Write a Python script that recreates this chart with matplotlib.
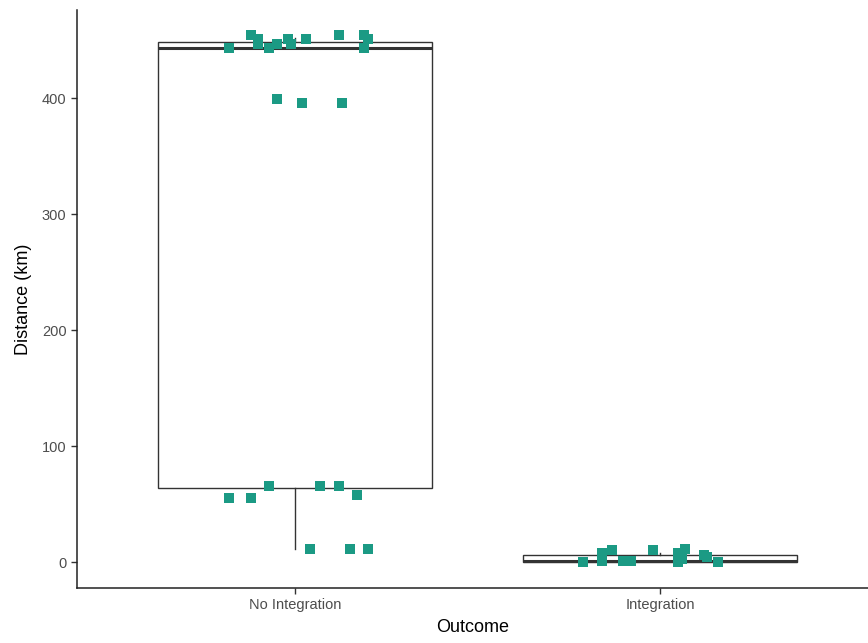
import matplotlib
matplotlib.use("Agg")
import matplotlib.pyplot as plt

plt.rcParams['font.family'] = ['Liberation Sans', 'DejaVu Sans']

categories = ["No Integration", "Integration"]

# box statistics (km)
box_q1 = [64, 0]
box_med = [443, 1]
box_q3 = [448, 6]
box_wlo = [11, 0]
box_whi = [452, 8]

# jittered points: horizontal jitter offset from category centre, distance (km)
g1_off = [-0.12, -0.10, -0.10, -0.18, -0.07, -0.05, -0.02, -0.01, 0.03, 0.12, 0.19, 0.20, 0.19,
          -0.05, 0.02, 0.13, -0.07, 0.07, 0.12, -0.18, -0.12, 0.17, 0.04, 0.15, 0.20]
g1_y = [454, 451, 447, 443, 443, 447, 451, 447, 451, 454, 454, 451, 443,
        399, 396, 396, 65.5, 65.5, 65.5, 55, 55, 58, 11, 11, 11]
g2_off = [-0.21, -0.16, -0.16, -0.13, -0.10, -0.08, -0.02, 0.05, 0.05, 0.07, 0.06, 0.12, 0.13, 0.16]
g2_y = [0, 8, 1, 10, 1, 1, 10, 8, 0, 11, 3, 6, 4, 0]

fig = plt.figure(figsize=(8.68, 6.43), dpi=100)
ax = fig.add_axes([77/868, 55/643, (868-77)/868, (588-10)/643])

stats = []
for i in range(2):
    stats.append(dict(med=box_med[i], q1=box_q1[i], q3=box_q3[i],
                      whislo=box_wlo[i], whishi=box_whi[i], fliers=[]))
ax.bxp(stats, positions=[1, 2], widths=0.75, showcaps=False, patch_artist=True,
       boxprops=dict(facecolor='white', edgecolor='#333333', linewidth=1.0),
       medianprops=dict(color='#333333', linewidth=2.2),
       whiskerprops=dict(color='#333333', linewidth=1.0), zorder=1)

teal = '#1b9a84'
ax.plot([1 + o for o in g1_off], g1_y, 's', color=teal, markersize=6.8, markeredgewidth=0, zorder=3)
ax.plot([2 + o for o in g2_off], g2_y, 's', color=teal, markersize=6.8, markeredgewidth=0, zorder=3)

ax.set_xlim(0.403, 2.57)
ax.set_ylim(-22.4, 475.9)
ax.set_xticks([1, 2])
ax.set_xticklabels(categories)
ax.set_yticks([0, 100, 200, 300, 400])
for s in ['top', 'right']:
    ax.spines[s].set_visible(False)
for s in ['left', 'bottom']:
    ax.spines[s].set_color('#222222')
    ax.spines[s].set_linewidth(1.1)
ax.tick_params(axis='both', colors='#333333', labelcolor='#4d4d4d', labelsize=10.5, length=4, width=1)
ax.set_xlabel("Outcome", fontsize=13, color='black', labelpad=5)
ax.set_ylabel("Distance (km)", fontsize=13, color='black', labelpad=7)

fig.savefig("out.png", dpi=100)
